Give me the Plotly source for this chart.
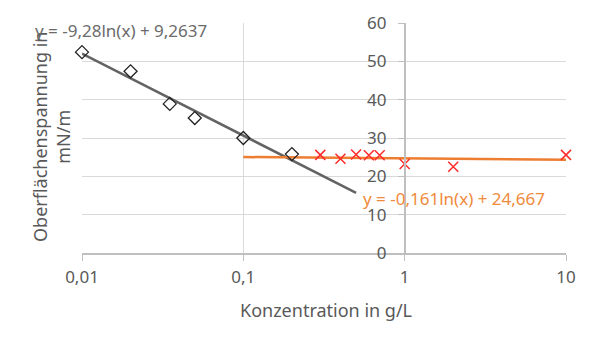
import numpy as np
import plotly.graph_objects as go

# Data
conc_low = [0.01, 0.02, 0.035, 0.05, 0.1, 0.2]
sigma_low = [52.4, 47.4, 38.9, 35.2, 30.0, 25.8]

conc_high = [0.3, 0.4, 0.5, 0.6, 0.7, 1.0, 2.0, 10.0]
sigma_high = [25.6, 24.6, 25.7, 25.5, 25.5, 23.2, 22.5, 25.6]

# Trendlines y = a*ln(x) + b
trend_low_coef = [-9.28, 9.2637]
trend_low_range = [0.01, 0.5]
trend_high_coef = [-0.161, 24.667]
trend_high_range = [0.1, 10.0]

x_tickvals = [0.01, 0.1, 1, 10]
x_ticktext = ["0,01", "0,1", "1", "10"]
y_tickvals = [0, 10, 20, 30, 40, 50, 60]

W, H = 600, 351
L, R, T, B = 82, 34, 23, 98
TXT = "#595959"
FONT = "Noto Sans"
FS = 17
FT = 18


def trend(coef, rng):
    xs = np.array(rng)
    return xs, coef[0] * np.log(xs) + coef[1]


fig = go.Figure()

tx, ty = trend(trend_low_coef, trend_low_range)
fig.add_trace(go.Scatter(x=tx, y=ty, mode="lines",
                         line=dict(color="#636363", width=2.5), showlegend=False))
tx2, ty2 = trend(trend_high_coef, trend_high_range)
fig.add_trace(go.Scatter(x=tx2, y=ty2, mode="lines",
                         line=dict(color="#ED7D31", width=2.5), showlegend=False))

fig.add_trace(go.Scatter(x=conc_low, y=sigma_low, mode="markers", cliponaxis=False,
                         marker=dict(symbol="diamond-open", size=10, color="#222222",
                                     line=dict(width=1.3, color="#222222")),
                         showlegend=False))
fig.add_trace(go.Scatter(x=conc_high, y=sigma_high, mode="markers", cliponaxis=False,
                         marker=dict(symbol="x-thin-open", size=10, color="#FF2A2A",
                                     line=dict(width=1.5, color="#FF2A2A")),
                         showlegend=False))

fig.update_layout(
    width=W, height=H,
    margin=dict(l=L, r=R, t=T, b=B),
    paper_bgcolor="white", plot_bgcolor="white",
    font=dict(family=FONT, size=FS, color=TXT),
    xaxis=dict(type="log", range=[-2, 1], domain=[0, 1],
               tickvals=x_tickvals, ticktext=x_ticktext,
               showgrid=True, gridcolor="#d9d9d9", gridwidth=1,
               showline=True, linecolor="#bfbfbf", linewidth=1.5,
               ticks="outside", ticklen=6, tickcolor="#bfbfbf",
               ticklabelstandoff=2,
               tickfont=dict(size=FS, color=TXT), zeroline=False),
    yaxis=dict(range=[0, 60], tickvals=y_tickvals,
               anchor="free", position=2/3, side="left",
               showgrid=True, gridcolor="#d9d9d9", gridwidth=1,
               showline=True, linecolor="#bfbfbf", linewidth=1.5,
               ticks="outside", ticklen=6, tickcolor="#bfbfbf",
               ticklabelstandoff=8,
               tickfont=dict(size=FS, color=TXT), zeroline=False),
)

pw, ph = W - L - R, H - T - B


def px(x):
    return (x - L) / pw


def py(y):
    return (H - B - y) / ph


fig.add_annotation(text="Konzentration in g/L", x=px(326), y=py(310),
                   xref="paper", yref="paper", showarrow=False,
                   xanchor="center", yanchor="middle",
                   font=dict(size=FT, color=TXT, family=FONT))
fig.add_annotation(text="Oberflächenspannung in<br>mN/m", x=px(51), y=py(137),
                   xref="paper", yref="paper", showarrow=False, textangle=-90,
                   xanchor="center", yanchor="middle",
                   font=dict(size=FT, color=TXT, family=FONT))
fig.add_annotation(text="y = -9,28ln(x) + 9,2637", x=px(33), y=py(30),
                   xref="paper", yref="paper", showarrow=False,
                   xanchor="left", yanchor="middle",
                   font=dict(size=17, color="#6b6b6b", family=FONT))
fig.add_annotation(text="y = -0,161ln(x) + 24,667", x=px(361), y=py(198),
                   xref="paper", yref="paper", showarrow=False,
                   xanchor="left", yanchor="middle",
                   font=dict(size=17, color="#F08A3C", family=FONT))

fig.write_html("out.html")
